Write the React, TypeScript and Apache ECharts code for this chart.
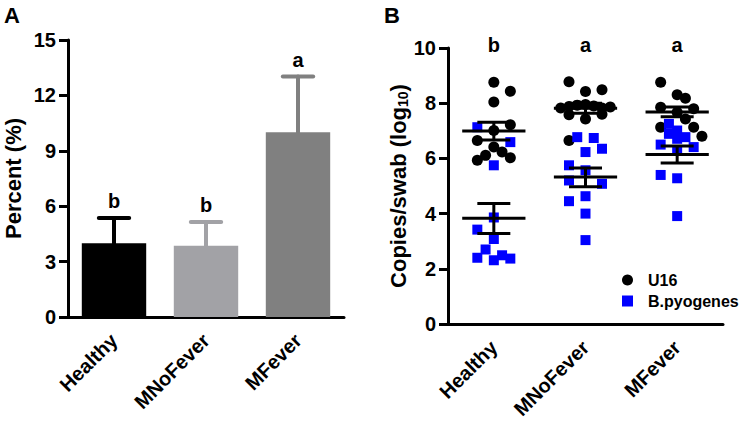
import React, { useEffect, useRef } from "react";
import * as echarts from "echarts";

// ---------- Data ----------
const categories = ["Healthy", "MNoFever", "MFever"];

// Panel A: percent (mean, upper error)
const percentMean = [4.0, 3.86, 10.0];
const percentErr = [1.36, 1.28, 3.02];
const percentLetters = ["b", "b", "a"];

// Panel B: copies/swab (log10), per group
const healthyU16 = [8.76, 8.43, 8.04, 7.22, 7.01, 6.65, 6.41, 6.23, 6.11, 6.02, 5.93];
const healthyU16Jitter = [0, 2, 0, 2, 0, -2, 0, 1, -1, 2, -2];
const mNoFeverU16 = [8.78, 8.49, 8.42, 7.83, 7.88, 7.93, 7.95, 7.9, 7.83, 7.86, 7.58, 7.43, 7.6, 6.65];
const mNoFeverU16Jitter = [-2, 2, 0, -3, -2, -1, 0, 1, 2, 3, -2, 0, 2, -2];
const mFeverU16 = [8.76, 8.31, 8.18, 7.85, 7.67, 7.8, 7.43, 7.13, 7.13, 6.8];
const mFeverU16Jitter = [-2, 0, 1, -2, 0, 2, 1, -2, 2, 3];

const healthyBpy = [7.13, 6.59, 5.75, 3.86, 3.42, 3.08, 2.7, 2.4, 2.31, 2.49, 2.37];
const healthyBpyJitter = [-2, 2, 0, 0, -2, 0, -1, -2, 0, 1, 2];
const mNoFeverBpy = [6.77, 6.74, 6.23, 6.35, 5.75, 5.57, 5.2, 5.08, 4.45, 4.63, 4.0, 3.04];
const mNoFeverBpyJitter = [-1, 1, 0, 2, -2, 0, -2, 2, -2, 0, 0, 0];
const mFeverBpy = [7.25, 7.01, 6.89, 6.77, 6.71, 6.5, 6.41, 6.29, 5.4, 5.28, 3.91];
const mFeverBpyJitter = [-1, 0, -1, 1, 0, -2, 2, 0, -2, 0, 0];

const u16Mean = [6.99, 7.82, 7.68];
const u16SemLow = [6.67, 7.64, 7.51];
const u16SemHigh = [7.31, 8.0, 7.86];
const bpyMean = [3.83, 5.33, 6.14];
const bpySemLow = [3.28, 4.97, 5.83];
const bpySemHigh = [4.37, 5.65, 6.45];
const copiesLetters = ["b", "a", "a"];

// ---------- Styles ----------
const FONT = "Liberation Sans, Arial, Helvetica, sans-serif";
const barColors = ["#000000", "#a2a2a6", "#808080"];
const JITTER_STEP = 0.09;

function jitterData(groups: number[][], jitters: number[][]) {
  const out: number[][] = [];
  groups.forEach((vals, g) => {
    vals.forEach((v, k) => out.push([g + 0.5 + jitters[g][k] * JITTER_STEP, v]));
  });
  return out;
}

const axisLabelStyle = {
  fontSize: 20,
  fontWeight: "bold" as const,
  fontFamily: FONT,
  color: "#000",
};

export default function App() {
  const ref = useRef<HTMLDivElement>(null);

  useEffect(() => {
    if (!ref.current) return;
    const chart = echarts.init(ref.current, null, { renderer: "svg" });

    const u16Data = jitterData(
      [healthyU16, mNoFeverU16, mFeverU16],
      [healthyU16Jitter, mNoFeverU16Jitter, mFeverU16Jitter]
    );
    const bpyData = jitterData(
      [healthyBpy, mNoFeverBpy, mFeverBpy],
      [healthyBpyJitter, mNoFeverBpyJitter, mFeverBpyJitter]
    );

    const meanRender = (params: any, api: any) => {
      const x = api.value(0);
      const pm = api.coord([x, api.value(1)]);
      const plo = api.coord([x, api.value(2)]);
      const phi = api.coord([x, api.value(3)]);
      const unit = api.size([1, 0])[0];
      const hw = unit * 0.345;
      const hc = unit * 0.18;
      const st = { stroke: "#000", lineWidth: 3 };
      return {
        type: "group",
        children: [
          { type: "line", shape: { x1: pm[0] - hw, y1: pm[1], x2: pm[0] + hw, y2: pm[1] }, style: st },
          { type: "line", shape: { x1: pm[0], y1: plo[1], x2: pm[0], y2: phi[1] }, style: st },
          { type: "line", shape: { x1: pm[0] - hc, y1: plo[1], x2: pm[0] + hc, y2: plo[1] }, style: st },
          { type: "line", shape: { x1: pm[0] - hc, y1: phi[1], x2: pm[0] + hc, y2: phi[1] }, style: st },
        ],
      };
    };

    const option: any = {
      animation: false,
      backgroundColor: "#fff",
      textStyle: { fontFamily: FONT },
      graphic: [
        { type: "text", left: 4, top: 4, style: { text: "A", font: `bold 22px ${FONT}`, fill: "#000" } },
        { type: "text", left: 384, top: 4, style: { text: "B", font: `bold 22px ${FONT}`, fill: "#000" } },
      ],
      legend: {
        orient: "vertical",
        left: 617,
        top: 267,
        padding: 5,
        itemWidth: 11,
        itemHeight: 11,
        itemGap: 5,
        selectedMode: false,
        textStyle: { fontSize: 16, fontWeight: "bold", fontFamily: FONT, color: "#000", padding: [0, 0, 0, 10] },
        data: [
          { name: "U16", icon: "circle" },
          { name: "B.pyogenes", icon: "rect" },
        ],
      },
      grid: [
        { left: 68, top: 40, width: 276, height: 277 },
        { left: 448, top: 48, width: 275, height: 276 },
      ],
      xAxis: [
        {
          type: "category",
          gridIndex: 0,
          data: categories,
          axisLine: { lineStyle: { color: "#000", width: 3 } },
          axisTick: { alignWithLabel: true, length: 9, lineStyle: { color: "#000", width: 3 } },
          axisLabel: { ...axisLabelStyle, rotate: 45, margin: 20 },
        },
        {
          type: "category",
          gridIndex: 1,
          data: categories,
          axisLine: { lineStyle: { color: "#000", width: 3 } },
          axisTick: { alignWithLabel: true, length: 9, lineStyle: { color: "#000", width: 3 } },
          axisLabel: { ...axisLabelStyle, rotate: 45, margin: 20 },
        },
        { type: "value", gridIndex: 1, min: 0, max: 3, show: false },
      ],
      yAxis: [
        {
          type: "value",
          gridIndex: 0,
          min: 0,
          max: 15,
          interval: 3,
          name: "Percent (%)",
          nameLocation: "middle",
          nameGap: 44,
          nameTextStyle: { fontSize: 22, fontWeight: "bold", fontFamily: FONT, color: "#000" },
          splitLine: { show: false },
          axisLine: { show: true, lineStyle: { color: "#000", width: 3 } },
          axisTick: { show: true, length: 9, lineStyle: { color: "#000", width: 3 } },
          axisLabel: { ...axisLabelStyle, margin: 12 },
        },
        {
          type: "value",
          gridIndex: 1,
          min: 0,
          max: 10,
          interval: 2,
          name: "{m|Copies/swab (log}{s|10}{m|)}",
          nameLocation: "middle",
          nameGap: 36,
          nameTextStyle: {
            rich: {
              m: { fontSize: 22, fontWeight: "bold", fontFamily: FONT, color: "#000", lineHeight: 26, verticalAlign: "bottom" },
              s: { fontSize: 14, fontWeight: "bold", fontFamily: FONT, color: "#000", lineHeight: 14, verticalAlign: "bottom" },
            },
          },
          splitLine: { show: false },
          axisLine: { show: true, lineStyle: { color: "#000", width: 3 } },
          axisTick: { show: true, length: 9, lineStyle: { color: "#000", width: 3 } },
          axisLabel: { ...axisLabelStyle, margin: 12 },
        },
      ],
      series: [
        {
          type: "bar",
          name: "Percent",
          xAxisIndex: 0,
          yAxisIndex: 0,
          barWidth: "70%",
          data: percentMean.map((v, i) => ({ value: v, itemStyle: { color: barColors[i] } })),
        },
        {
          type: "custom",
          name: "PercentErr",
          xAxisIndex: 0,
          yAxisIndex: 0,
          data: percentMean.map((v, i) => [i, v, percentErr[i]]),
          renderItem: (params: any, api: any) => {
            const i = api.value(0);
            const base = api.coord([i, api.value(1)]);
            const top = api.coord([i, api.value(1) + api.value(2)]);
            const band = api.size([1, 0])[0];
            const hc = band * 0.165;
            const color = barColors[params.dataIndex];
            const st = { stroke: color, lineWidth: 4, lineCap: "round" };
            return {
              type: "group",
              children: [
                { type: "line", shape: { x1: base[0], y1: base[1], x2: top[0], y2: top[1] }, style: st },
                { type: "line", shape: { x1: top[0] - hc, y1: top[1], x2: top[0] + hc, y2: top[1] }, style: st },
                {
                  type: "text",
                  x: top[0],
                  y: top[1] - 17,
                  style: {
                    text: percentLetters[params.dataIndex],
                    font: `bold 20px ${FONT}`,
                    fill: "#000",
                    align: "center",
                    verticalAlign: "middle",
                  },
                },
              ],
            };
          },
        },
        {
          type: "scatter",
          name: "U16",
          xAxisIndex: 2,
          yAxisIndex: 1,
          symbol: "circle",
          symbolSize: 11,
          itemStyle: { color: "#000", opacity: 1 },
          data: u16Data,
        },
        {
          type: "scatter",
          name: "B.pyogenes",
          xAxisIndex: 2,
          yAxisIndex: 1,
          symbol: "rect",
          symbolSize: 10,
          itemStyle: { color: "#0000ff", opacity: 1 },
          data: bpyData,
        },
        {
          type: "custom",
          name: "U16 mean",
          xAxisIndex: 2,
          yAxisIndex: 1,
          data: u16Mean.map((m, i) => [i + 0.5, m, u16SemLow[i], u16SemHigh[i]]),
          renderItem: meanRender,
          z: 5,
        },
        {
          type: "custom",
          name: "B.pyogenes mean",
          xAxisIndex: 2,
          yAxisIndex: 1,
          data: bpyMean.map((m, i) => [i + 0.5, m, bpySemLow[i], bpySemHigh[i]]),
          renderItem: meanRender,
          z: 5,
        },
        {
          type: "custom",
          name: "Letters B",
          xAxisIndex: 2,
          yAxisIndex: 1,
          data: copiesLetters.map((_, i) => [i + 0.5, 10]),
          renderItem: (params: any, api: any) => {
            const p = api.coord([api.value(0), api.value(1)]);
            return {
              type: "text",
              x: p[0],
              y: p[1] - 3,
              style: {
                text: copiesLetters[params.dataIndex],
                font: `bold 20px ${FONT}`,
                fill: "#000",
                align: "center",
                verticalAlign: "middle",
              },
            };
          },
        },
      ],
    };

    chart.setOption(option);
    return () => chart.dispose();
  }, []);

  return (
    <div
      ref={ref}
      style={{ position: "absolute", left: 0, top: 0, width: 750, height: 427, background: "#fff" }}
    />
  );
}
